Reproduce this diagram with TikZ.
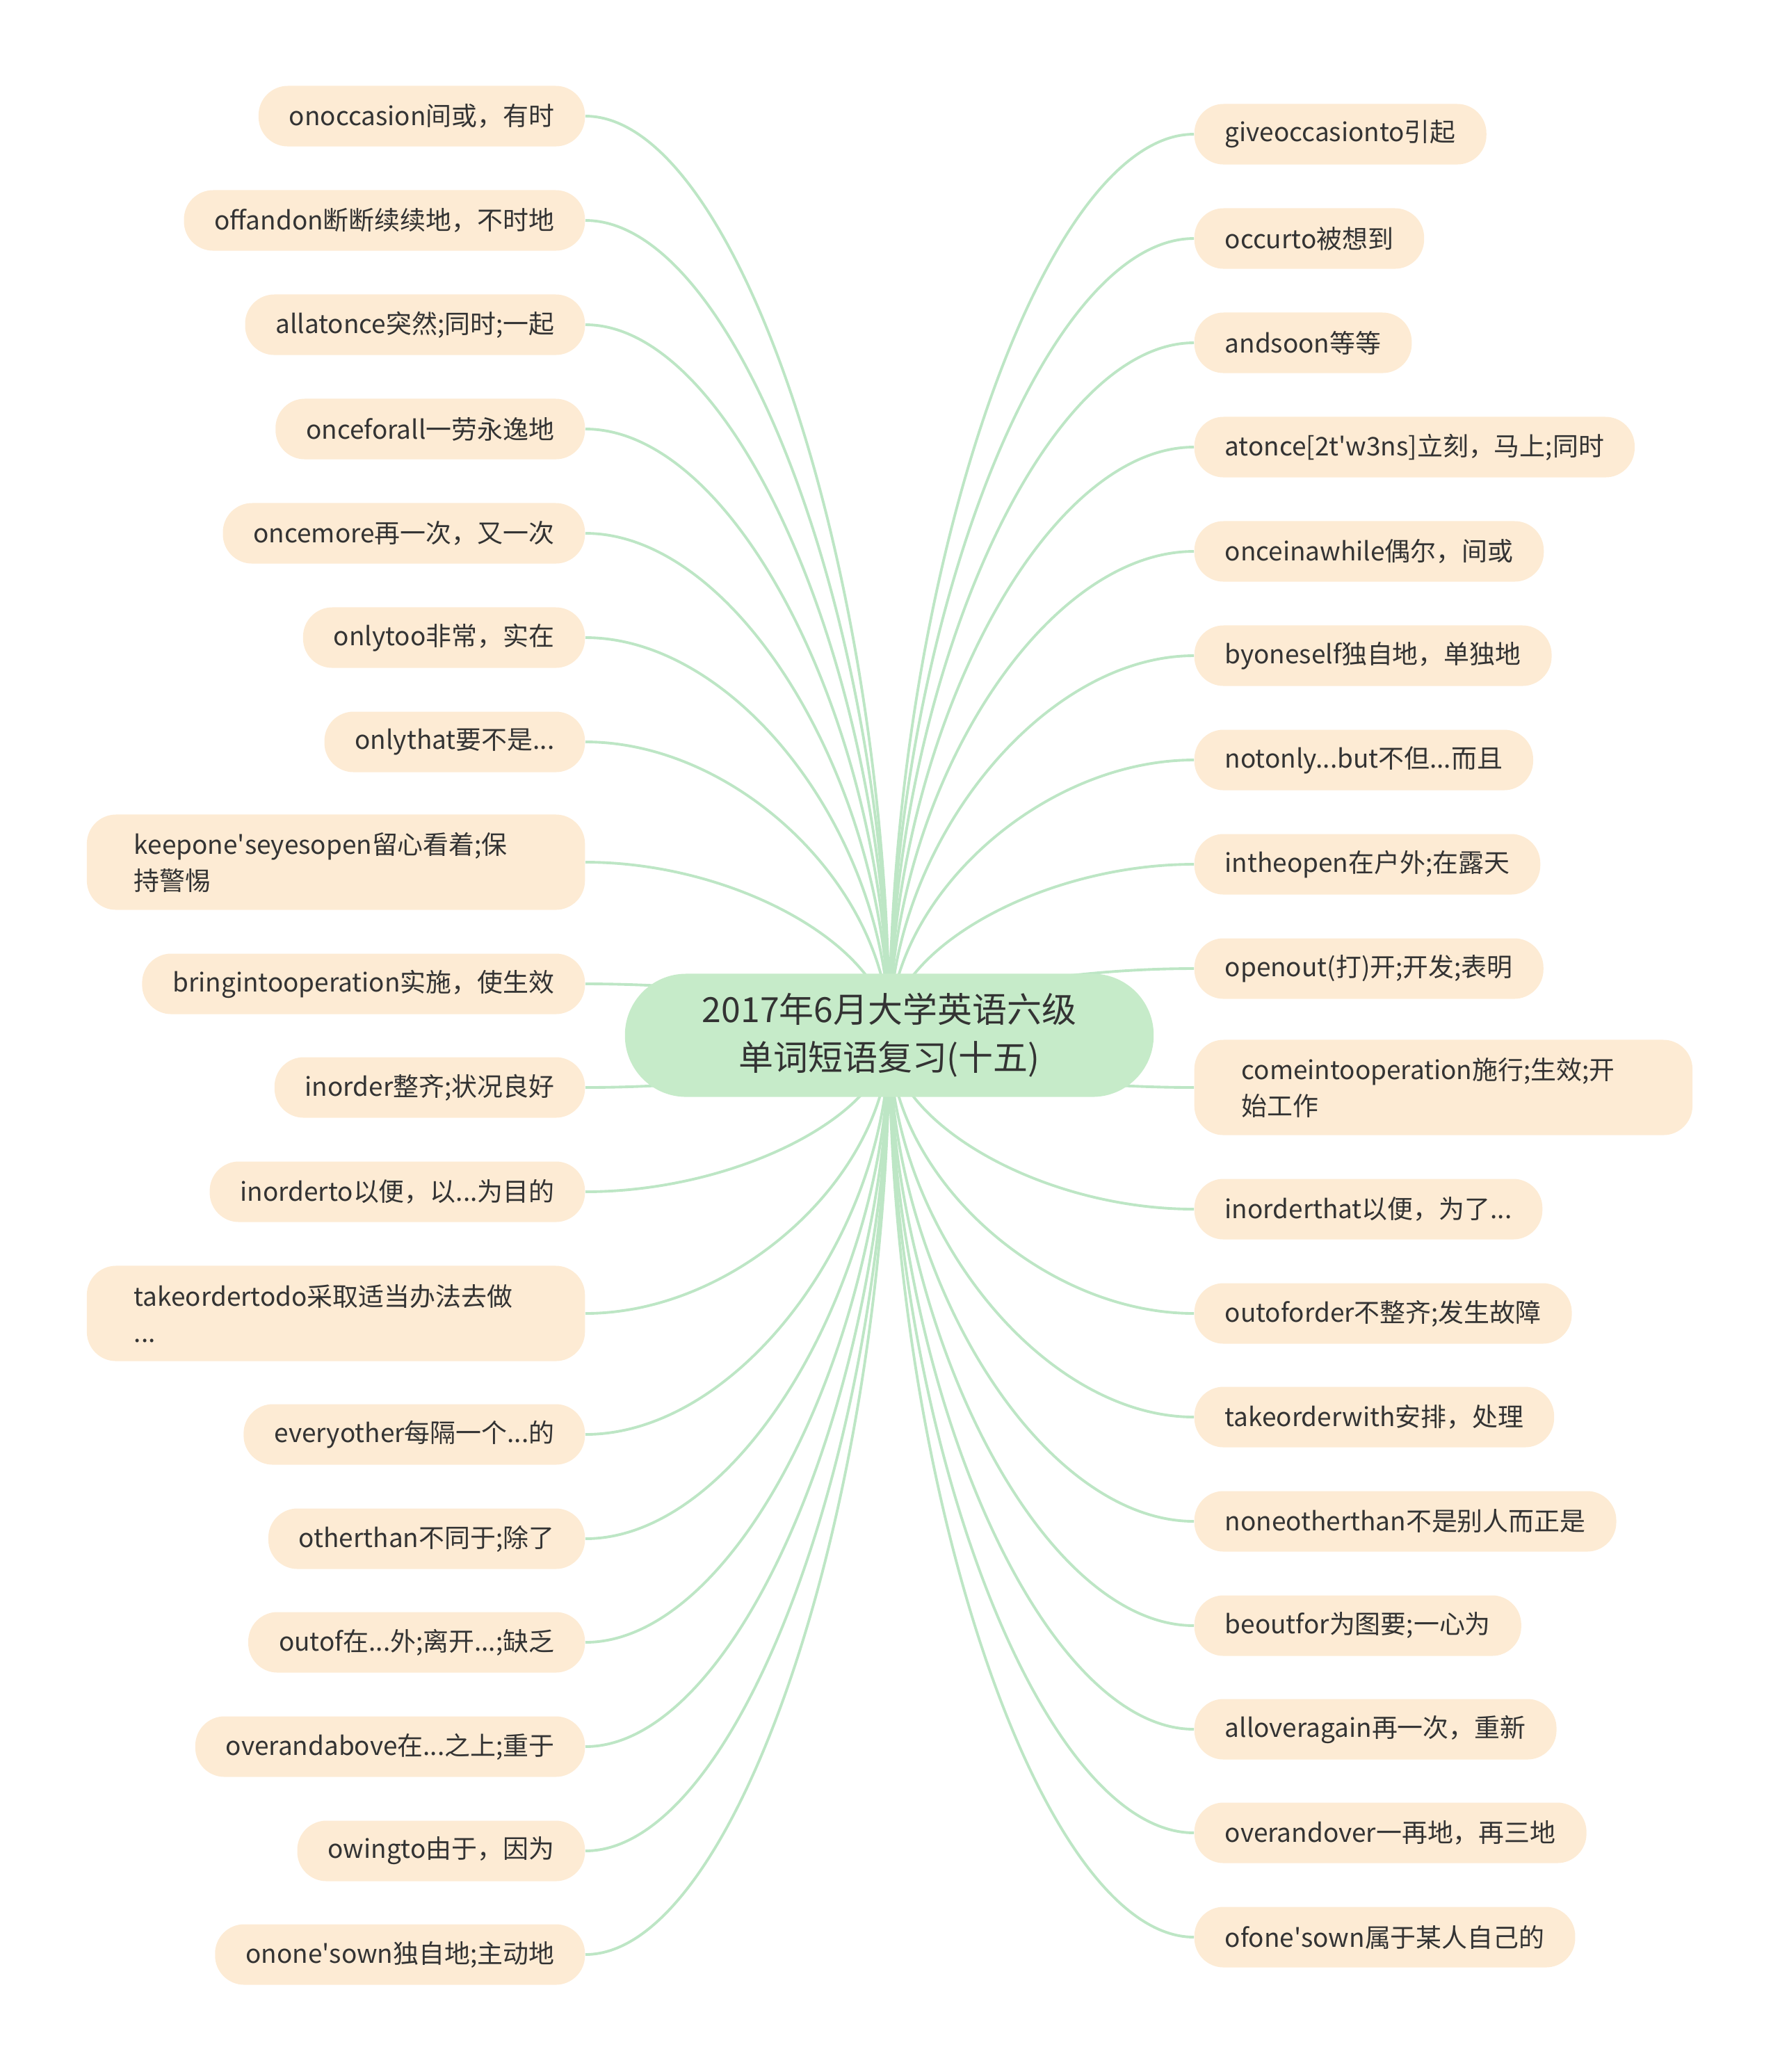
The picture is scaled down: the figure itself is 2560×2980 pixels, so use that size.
\documentclass[tikz,border=0pt]{standalone}
\usepackage{fontspec}
\setmainfont{Noto Sans CJK SC}
\usetikzlibrary{calc,backgrounds}
\definecolor{leafbg}{HTML}{FDEBD4}
\definecolor{rootbg}{HTML}{C6EBC9}
\definecolor{branchgreen}{HTML}{BDE6C5}
\definecolor{textgray}{HTML}{333333}
\newcommand{\linkleaf}[2]{\draw[branch] (root.center) .. controls ($(root.center)!0.5!(root.center |- #1.#2)$) and ($(#1.#2)!0.5!(root.center |- #1.#2)$) .. (#1.#2);}

\begin{document}
\begin{tikzpicture}[x=0.01cm, y=-0.01cm,
  every node/.style={text=textgray, font=\fontsize{10.5}{14.8}\selectfont},
  leaf/.style={fill=leafbg, rounded corners=0.42cm, minimum height=0.87cm, inner xsep=0.44cm, inner ysep=0pt},
  leaftwo/.style={leaf, text width=5.8cm, align=left, inner xsep=0.68cm, minimum height=1.37cm},
  root/.style={fill=rootbg, rounded corners=0.88cm, minimum width=7.6cm, minimum height=1.77cm, align=center, font=\fontsize{14.2}{19.6}\selectfont},
  branch/.style={draw=branchgreen, line width=1.1pt}]
  \useasboundingbox (0,0) rectangle (2560,2980);
  \node[root] (root) at (1279,1489) {2017年6月大学英语六级\\单词短语复习(十五)};
  % left side
  \node[leaf, anchor=east] (l1) at (842,167) {onoccasion间或，有时};
  \node[leaf, anchor=east] (l2) at (842,317) {offandon断断续续地，不时地};
  \node[leaf, anchor=east] (l3) at (842,467) {allatonce突然;同时;一起};
  \node[leaf, anchor=east] (l4) at (842,617) {onceforall一劳永逸地};
  \node[leaf, anchor=east] (l5) at (842,767) {oncemore再一次，又一次};
  \node[leaf, anchor=east] (l6) at (842,917) {onlytoo非常，实在};
  \node[leaf, anchor=east] (l7) at (842,1067) {onlythat要不是...};
  \node[leaftwo, anchor=east] (l8) at (842,1240) {keepone\textquotesingle seyesopen留心看着;保\\持警惕};
  \node[leaf, anchor=east] (l9) at (842,1415) {bringintooperation实施，使生效};
  \node[leaf, anchor=east] (l10) at (842,1564) {inorder整齐;状况良好};
  \node[leaf, anchor=east] (l11) at (842,1714) {inorderto以便，以...为目的};
  \node[leaftwo, anchor=east] (l12) at (842,1889) {takeordertodo采取适当办法去做\\...};
  \node[leaf, anchor=east] (l13) at (842,2063) {everyother每隔一个...的};
  \node[leaf, anchor=east] (l14) at (842,2213) {otherthan不同于;除了};
  \node[leaf, anchor=east] (l15) at (842,2362) {outof在...外;离开...;缺乏};
  \node[leaf, anchor=east] (l16) at (842,2512) {overandabove在...之上;重于};
  \node[leaf, anchor=east] (l17) at (842,2662) {owingto由于，因为};
  \node[leaf, anchor=east] (l18) at (842,2811) {onone\textquotesingle sown独自地;主动地};
  % right side
  \node[leaf, anchor=west] (r1) at (1717,193) {giveoccasionto引起};
  \node[leaf, anchor=west] (r2) at (1717,343) {occurto被想到};
  \node[leaf, anchor=west] (r3) at (1717,493) {andsoon等等};
  \node[leaf, anchor=west] (r4) at (1717,643) {atonce[2t\textquotesingle w3ns]立刻，马上;同时};
  \node[leaf, anchor=west] (r5) at (1717,793) {onceinawhile偶尔，间或};
  \node[leaf, anchor=west] (r6) at (1717,943) {byoneself独自地，单独地};
  \node[leaf, anchor=west] (r7) at (1717,1093) {notonly...but不但...而且};
  \node[leaf, anchor=west] (r8) at (1717,1243) {intheopen在户外;在露天};
  \node[leaf, anchor=west] (r9) at (1717,1393) {openout(打)开;开发;表明};
  \node[leaftwo, anchor=west] (r10) at (1717,1564) {comeintooperation施行;生效;开\\始工作};
  \node[leaf, anchor=west] (r11) at (1717,1739) {inorderthat以便，为了...};
  \node[leaf, anchor=west] (r12) at (1717,1889) {outoforder不整齐;发生故障};
  \node[leaf, anchor=west] (r13) at (1717,2038) {takeorderwith安排，处理};
  \node[leaf, anchor=west] (r14) at (1717,2188) {noneotherthan不是别人而正是};
  \node[leaf, anchor=west] (r15) at (1717,2338) {beoutfor为图要;一心为};
  \node[leaf, anchor=west] (r16) at (1717,2487) {alloveragain再一次，重新};
  \node[leaf, anchor=west] (r17) at (1717,2636) {overandover一再地，再三地};
  \node[leaf, anchor=west] (r18) at (1717,2786) {ofone\textquotesingle sown属于某人自己的};
  \begin{scope}[on background layer]
    \linkleaf{l1}{east} \linkleaf{l2}{east} \linkleaf{l3}{east}
    \linkleaf{l4}{east} \linkleaf{l5}{east} \linkleaf{l6}{east}
    \linkleaf{l7}{east} \linkleaf{l8}{east} \linkleaf{l9}{east}
    \linkleaf{l10}{east} \linkleaf{l11}{east} \linkleaf{l12}{east}
    \linkleaf{l13}{east} \linkleaf{l14}{east} \linkleaf{l15}{east}
    \linkleaf{l16}{east} \linkleaf{l17}{east} \linkleaf{l18}{east}
    \linkleaf{r1}{west} \linkleaf{r2}{west} \linkleaf{r3}{west}
    \linkleaf{r4}{west} \linkleaf{r5}{west} \linkleaf{r6}{west}
    \linkleaf{r7}{west} \linkleaf{r8}{west} \linkleaf{r9}{west}
    \linkleaf{r10}{west} \linkleaf{r11}{west} \linkleaf{r12}{west}
    \linkleaf{r13}{west} \linkleaf{r14}{west} \linkleaf{r15}{west}
    \linkleaf{r16}{west} \linkleaf{r17}{west} \linkleaf{r18}{west}
  \end{scope}
\end{tikzpicture}
\end{document}
